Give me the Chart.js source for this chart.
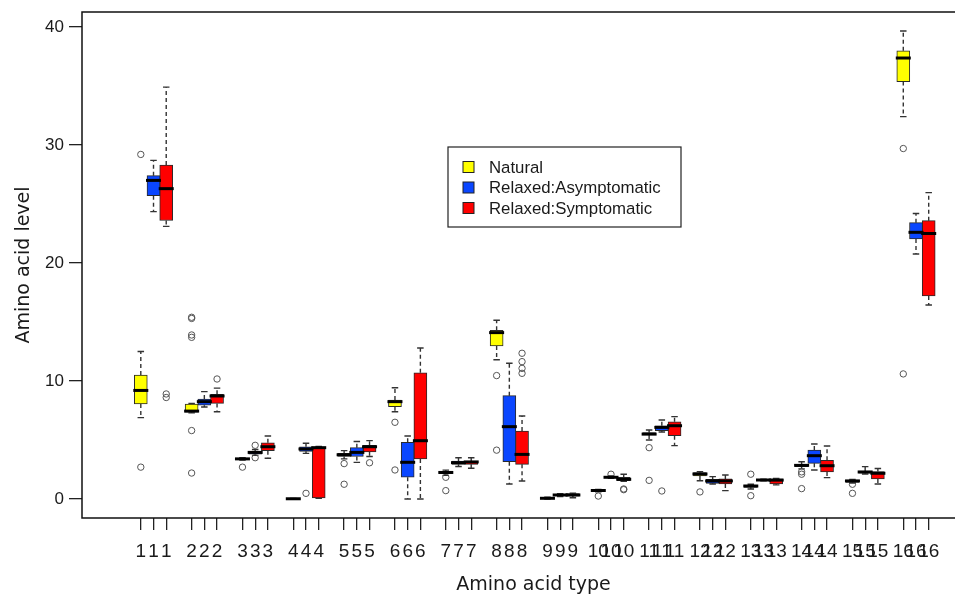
<!DOCTYPE html>
<html>
<head>
<meta charset="utf-8">
<script src="https://cdn.jsdelivr.net/npm/chart.js@4.4.0/dist/chart.umd.min.js"></script>
<style>
  html, body { margin: 0; padding: 0; background: #fff; overflow: hidden; }
  #myChart { display: block; }
</style>
</head>
<body>
<canvas id="myChart" width="990" height="594"></canvas>
<script>
// amino acid types on the x axis
const groups = [1, 2, 3, 4, 5, 6, 7, 8, 9, 10, 11, 12, 13, 14, 15, 16];
const seriesNames = ['Natural', 'Relaxed:Asymptomatic', 'Relaxed:Symptomatic'];
const seriesColors = ['#ffff00', '#0a46ff', '#ff0000'];
const yTicks = [0, 10, 20, 30, 40];

// box stats per type: [lower whisker, q1, median, q3, upper whisker]
const naturalStats = [
    [6.9, 8.05, 9.2, 10.5, 12.5], [7.3, 7.35, 7.45, 8.05, 8.1], [3.3, 3.35, 3.4, 3.45, 3.5],
    [0, 0, 0.02, 0.05, 0.05], [3.4, 3.6, 3.75, 3.87, 4.1], [7.4, 7.82, 8.25, 8.39, 9.43],
    [2.0, 2.15, 2.25, 2.35, 2.45], [11.8, 12.97, 14.1, 14.3, 15.15], [0, 0.02, 0.06, 0.1, 0.15],
    [0.6, 0.66, 0.72, 0.78, 0.82], [5.0, 5.42, 5.5, 5.62, 5.85], [1.55, 1.95, 2.12, 2.23, 2.32],
    [0.85, 0.99, 1.1, 1.19, 1.25], [2.55, 2.74, 2.85, 2.94, 3.16], [1.35, 1.41, 1.53, 1.61, 1.65],
    [32.4, 35.37, 37.37, 37.99, 39.66]
];
const asymptomaticStats = [
    [24.35, 25.7, 27.0, 27.4, 28.7], [7.8, 7.95, 8.25, 8.47, 9.1], [3.7, 3.8, 3.95, 4.05, 4.2],
    [3.87, 4.04, 4.24, 4.43, 4.72], [3.1, 3.6, 3.95, 4.35, 4.87], [0, 1.84, 3.11, 4.8, 5.34],
    [2.75, 2.94, 3.08, 3.22, 3.5], [1.27, 3.16, 6.13, 8.76, 11.5], [0.2, 0.3, 0.34, 0.4, 0.45],
    [1.75, 1.8, 1.84, 1.9, 1.95], [5.68, 5.79, 6.07, 6.21, 6.69], [1.27, 1.33, 1.53, 1.67, 1.9],
    [1.55, 1.58, 1.61, 1.64, 1.67], [2.46, 3.02, 3.67, 4.15, 4.66], [2.12, 2.18, 2.29, 2.37, 2.74],
    [20.76, 22.03, 22.6, 23.42, 24.2]
];
const symptomaticStats = [
    [23.1, 23.6, 26.3, 28.3, 34.9], [7.4, 8.1, 8.73, 8.87, 9.4], [3.45, 4.09, 4.43, 4.77, 5.34],
    [0.05, 0.1, 4.35, 4.4, 4.45], [3.6, 4.0, 4.43, 4.55, 4.95], [0, 3.39, 4.94, 10.7, 12.8],
    [2.6, 2.94, 3.14, 3.22, 3.5], [1.53, 2.94, 3.78, 5.76, 7.03], [0.1, 0.25, 0.34, 0.45, 0.5],
    [1.5, 1.56, 1.67, 1.84, 2.1], [4.52, 5.37, 6.21, 6.55, 6.98], [0.71, 1.27, 1.53, 1.7, 2.03],
    [1.2, 1.27, 1.6, 1.7, 1.75], [1.81, 2.29, 2.82, 3.28, 4.49], [1.27, 1.7, 2.18, 2.32, 2.58],
    [16.44, 17.2, 22.5, 23.59, 25.96]
];

// outlying points per type
const naturalOutliers = [
    [29.2, 2.7], [15.4, 15.3, 13.9, 13.7, 5.8, 2.2], [2.7], [], [3.0, 1.25], [6.5, 2.46],
    [1.84, 0.71], [10.46, 4.14], [], [0.25], [4.35, 1.58], [0.6], [2.1, 0.28],
    [2.3, 2.1, 0.88], [1.25, 0.48], [29.7, 10.6]
];
const asymptomaticOutliers = [
    [], [], [4.55, 3.5], [0.48], [], [], [], [], [], [2.1], [0.68], [], [], [], [], []
];
const symptomaticOutliers = [
    [8.9, 8.6], [10.17], [], [], [3.07], [], [], [12.35, 11.64, 11.07, 10.65], [],
    [0.85, 0.79], [], [], [], [], [], []
];

const allStats = [naturalStats, asymptomaticStats, symptomaticStats];
const allOutliers = [naturalOutliers, asymptomaticOutliers, symptomaticOutliers];

// three boxes side by side, one empty slot between types
function slot(g, j) {
    return 4 * (g - 1) + j + 1;
}

const tickPositions = [];
const tickLabels = [];
groups.forEach(g => {
    for (let j = 0; j < 3; j++) {
        tickPositions.push(slot(g, j));
        tickLabels.push(String(g));
    }
});

const FONT = "'Liberation Sans', Arial, sans-serif";
const WIDE_FONT = "'DejaVu Sans', sans-serif";

const datasets = [];
allStats.forEach((stats, s) => {
    datasets.push({
        type: 'bar',
        label: seriesNames[s],
        data: stats.map((st, i) => ({ x: slot(groups[i], s), y: [st[1], st[3]], stats: st })),
        backgroundColor: seriesColors[s],
        borderColor: '#2a2a2a',
        borderWidth: 1,
        borderSkipped: false,
        barThickness: 13,
        grouped: false,
    });
});
allOutliers.forEach((outs, s) => {
    const pts = [];
    outs.forEach((arr, i) => arr.forEach(v => pts.push({ x: slot(groups[i], s), y: v })));
    datasets.push({
        type: 'scatter',
        label: seriesNames[s] + ' outliers',
        data: pts,
        pointStyle: 'circle',
        pointRadius: 3.2,
        borderColor: '#555',
        backgroundColor: 'rgba(0,0,0,0)',
        borderWidth: 1,
    });
});

const boxParts = {
    id: 'boxParts',
    beforeDatasetsDraw(chart) {
        const ctx = chart.ctx;
        const y = chart.scales.y;
        ctx.save();
        for (let s = 0; s < 3; s++) {
            chart.getDatasetMeta(s).data.forEach((el, i) => {
                const st = chart.data.datasets[s].data[i].stats;
                const x = el.x;
                const cap = el.width * 0.25;
                ctx.strokeStyle = '#333';
                ctx.lineWidth = 1.4;
                ctx.setLineDash([4, 3]);
                ctx.beginPath();
                ctx.moveTo(x, y.getPixelForValue(st[3]));
                ctx.lineTo(x, y.getPixelForValue(st[4]));
                ctx.moveTo(x, y.getPixelForValue(st[1]));
                ctx.lineTo(x, y.getPixelForValue(st[0]));
                ctx.stroke();
                ctx.setLineDash([]);
                ctx.beginPath();
                ctx.moveTo(x - cap, y.getPixelForValue(st[4]));
                ctx.lineTo(x + cap, y.getPixelForValue(st[4]));
                ctx.moveTo(x - cap, y.getPixelForValue(st[0]));
                ctx.lineTo(x + cap, y.getPixelForValue(st[0]));
                ctx.stroke();
            });
        }
        ctx.restore();
    },
    afterDatasetsDraw(chart) {
        const ctx = chart.ctx;
        const y = chart.scales.y;
        ctx.save();
        ctx.strokeStyle = '#000';
        ctx.lineWidth = 3;
        for (let s = 0; s < 3; s++) {
            chart.getDatasetMeta(s).data.forEach((el, i) => {
                const st = chart.data.datasets[s].data[i].stats;
                const py = y.getPixelForValue(st[2]);
                ctx.beginPath();
                ctx.moveTo(el.x - el.width / 2 - 1, py);
                ctx.lineTo(el.x + el.width / 2 + 1, py);
                ctx.stroke();
            });
        }
        ctx.restore();
    }
};

// plot frame: top, left and bottom sides; the right side is past the window
const frame = {
    id: 'frame',
    afterDraw(chart) {
        const { ctx, chartArea: a, width } = chart;
        ctx.save();
        ctx.strokeStyle = '#111';
        ctx.lineWidth = 1.5;
        ctx.beginPath();
        ctx.moveTo(width, a.top);
        ctx.lineTo(a.left, a.top);
        ctx.lineTo(a.left, a.bottom);
        ctx.lineTo(width, a.bottom);
        ctx.stroke();
        ctx.restore();
    }
};

const boxLegend = {
    id: 'boxLegend',
    afterDraw(chart) {
        const ctx = chart.ctx;
        const left = 448, top = 147, w = 233, h = 80;
        ctx.save();
        ctx.fillStyle = '#fff';
        ctx.fillRect(left, top, w, h);
        ctx.strokeStyle = '#222';
        ctx.lineWidth = 1.2;
        ctx.strokeRect(left, top, w, h);
        ctx.font = '16.8px ' + FONT;
        ctx.textBaseline = 'middle';
        seriesNames.forEach((name, s) => {
            const cy = top + 20 + s * 20.5;
            ctx.fillStyle = seriesColors[s];
            ctx.fillRect(left + 15, cy - 5.5, 11, 11);
            ctx.strokeStyle = '#222';
            ctx.lineWidth = 1;
            ctx.strokeRect(left + 15, cy - 5.5, 11, 11);
            ctx.fillStyle = '#1a1a1a';
            ctx.fillText(name, left + 41, cy + 1);
        });
        ctx.restore();
    }
};

const ctx = document.getElementById('myChart').getContext('2d');
new Chart(ctx, {
    type: 'bar',
    data: { datasets },
    options: {
        responsive: false,
        animation: false,
        devicePixelRatio: 1,
        layout: { padding: { top: 12, left: 0, right: 2, bottom: 0 } },
        plugins: {
            legend: { display: false },
            tooltip: { enabled: false },
        },
        scales: {
            x: {
                type: 'linear',
                offset: false,
                min: -3.627,
                max: 67.43,
                afterBuildTicks: (scale) => {
                    scale.ticks = tickPositions.map(v => ({ value: v }));
                },
                afterFit: (scale) => {
                    scale.height = 76;
                    scale.paddingLeft = 0;
                    scale.paddingRight = 0;
                },
                ticks: {
                    autoSkip: false,
                    maxRotation: 0,
                    minRotation: 0,
                    padding: 10,
                    color: '#1a1a1a',
                    font: { family: FONT, size: 19 },
                    callback: (value) => tickLabels[tickPositions.indexOf(value)],
                },
                grid: {
                    offset: false,
                    drawOnChartArea: false,
                    drawTicks: true,
                    tickLength: 12,
                    color: '#222',
                    lineWidth: 1.3,
                },
                border: { display: false },
                title: {
                    display: true,
                    text: 'Amino acid type',
                    color: '#1a1a1a',
                    font: { family: WIDE_FONT, size: 19, lineHeight: 0.9 },
                    padding: { top: 0, bottom: 0 },
                },
            },
            y: {
                type: 'linear',
                min: -1.61,
                max: 41.27,
                afterBuildTicks: (scale) => {
                    scale.ticks = yTicks.map(v => ({ value: v }));
                },
                afterFit: (scale) => {
                    scale.width = 82;
                    scale.paddingTop = 0;
                    scale.paddingBottom = 0;
                },
                ticks: {
                    padding: 5,
                    color: '#1a1a1a',
                    font: { family: FONT, size: 17 },
                },
                grid: {
                    drawOnChartArea: false,
                    drawTicks: true,
                    tickLength: 13,
                    color: '#222',
                    lineWidth: 1.3,
                },
                border: { display: false },
                title: {
                    display: true,
                    text: 'Amino acid level',
                    color: '#1a1a1a',
                    font: { family: WIDE_FONT, size: 19 },
                    padding: { top: 13, bottom: 0 },
                },
            },
        },
    },
    plugins: [boxParts, frame, boxLegend],
});
</script>
</body>
</html>
